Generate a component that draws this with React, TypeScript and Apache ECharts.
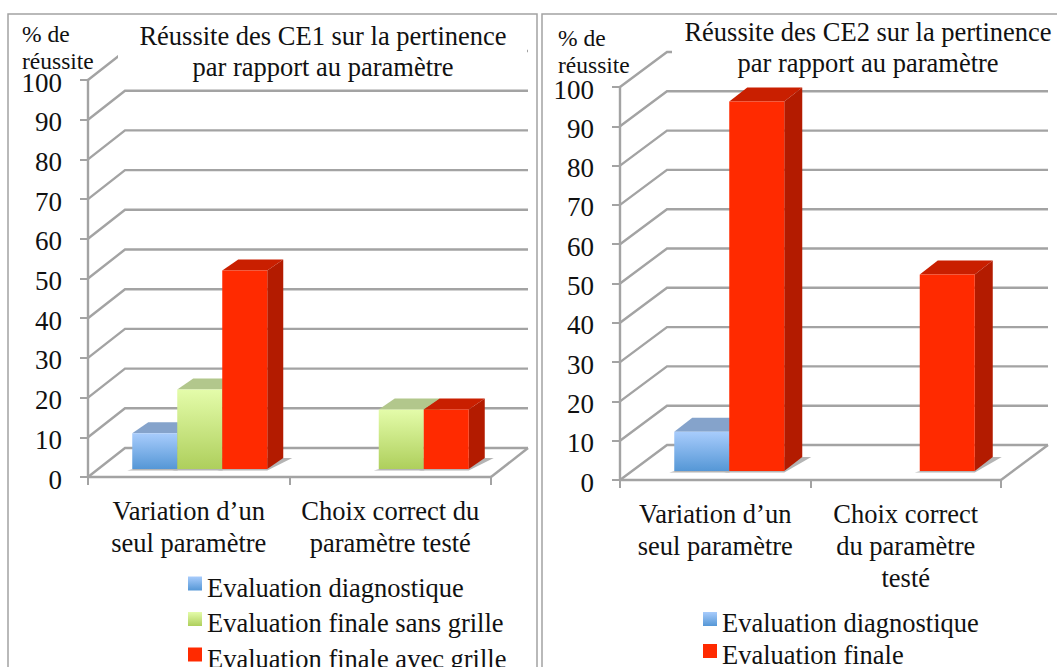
import React, { useEffect, useRef } from "react";
import * as echarts from "echarts";

const yTicks = [0, 10, 20, 30, 40, 50, 60, 70, 80, 90, 100];

const leftCategories = ["Variation d’un\nseul paramètre", "Choix correct du\nparamètre testé"];
const leftDiagnostic = [9, null];
const leftSansGrille = [20, 15];
const leftAvecGrille = [50, 15];

const rightCategories = ["Variation d’un\nseul paramètre", "Choix correct\ndu paramètre\ntesté"];
const rightDiagnostic = [10, null];
const rightFinale = [94, 50];

const FONT = "Liberation Serif";
const GRAY = "#a3a3a3";
const TEXT = "#111111";

const grad = (a: string, b: string) =>
  new echarts.graphic.LinearGradient(0, 0, 0, 1, [
    { offset: 0, color: a },
    { offset: 1, color: b },
  ]);

const BLUE = { front: () => grad("#a8ccfc", "#5597d6"), top: "#85a3cb", side: "#5f7fa8" };
const GREEN = { front: () => grad("#e4fcaa", "#aecf5c"), top: "#b2c78c", side: "#8aa05c" };
const RED = { front: () => "#ff2a00", top: "#c91f00", side: "#b31b00" };

function gridSeries(axisIndex: number, dx: number, dy: number) {
  return {
    type: "custom",
    xAxisIndex: axisIndex,
    yAxisIndex: axisIndex,
    z: 1,
    silent: true,
    encode: { x: 0, y: 1 },
    data: yTicks.map((t) => [0, t]),
    renderItem: (params: any, api: any) => {
      const v = api.value(1);
      const y = api.coord([0, v])[1];
      const cs = params.coordSys;
      const left = cs.x;
      const right = cs.x + cs.width;
      const style = { stroke: GRAY, lineWidth: 2.4, fill: "none" };
      const children: any[] = [
        {
          type: "polyline",
          shape: { points: [[left, y], [left + dx, y - dy], [right + dx, y - dy]] },
          style,
        },
      ];
      if (v === 0) {
        children.push({
          type: "line",
          shape: { x1: right, y1: y, x2: right + dx, y2: y - dy },
          style,
        });
      }
      return { type: "group", children };
    },
  };
}

function barSeries(
  name: string,
  values: (number | null)[],
  axisIndex: number,
  slot: number,
  slots: number,
  w: number,
  cfg: { offX: number; offY: number; dx: number; dy: number },
  palette: { front: () => any; top: string; side: string },
) {
  return {
    type: "custom",
    name,
    xAxisIndex: axisIndex,
    yAxisIndex: axisIndex,
    z: 3,
    encode: { x: 0, y: 1 },
    itemStyle: { color: palette.front() },
    data: values.map((v, i) => [i, v]),
    renderItem: (_: any, api: any) => {
      const v = api.value(1);
      if (v == null || isNaN(v)) return null;
      const cat = api.value(0);
      const p = api.coord([cat, v]);
      const base = api.coord([cat, 0]);
      const x0 = p[0] + cfg.offX + (slot - slots / 2) * w;
      const x1 = x0 + w;
      const yb = base[1] - cfg.offY;
      const yt = p[1] - cfg.offY;
      const { dx, dy } = cfg;
      return {
        type: "group",
        children: [
          {
            type: "polygon",
            shape: {
              points: [[x0 - 5, yb + 1.5], [x1, yb + 1.5], [x1 + dx + 9, yb - dy], [x1, yb - dy]],
            },
            style: { fill: "#b4b4b4" },
          },
          {
            type: "polygon",
            shape: { points: [[x0, yt], [x0 + dx, yt - dy], [x1 + dx, yt - dy], [x1, yt]] },
            style: { fill: palette.top },
          },
          {
            type: "polygon",
            shape: { points: [[x1, yt], [x1 + dx, yt - dy], [x1 + dx, yb - dy], [x1, yb]] },
            style: { fill: palette.side },
          },
          {
            type: "rect",
            shape: { x: x0, y: yt, width: w, height: yb - yt },
            style: { fill: palette.front() },
          },
        ],
      };
    },
  };
}

const xAxis = (index: number, data: string[]) => ({
  type: "category",
  gridIndex: index,
  data,
  boundaryGap: true,
  axisLine: { lineStyle: { color: GRAY, width: 2.4 } },
  axisTick: { show: true, length: 8, lineStyle: { color: GRAY, width: 2 } },
  axisLabel: {
    interval: 0,
    margin: 18,
    fontFamily: FONT,
    fontSize: 26.5,
    lineHeight: 32,
    color: TEXT,
  },
  splitLine: { show: false },
});

const yAxis = (index: number) => ({
  type: "value",
  gridIndex: index,
  min: 0,
  max: 100,
  interval: 10,
  axisLine: { show: true, lineStyle: { color: GRAY, width: 2.4 } },
  axisTick: { show: true, length: 8, lineStyle: { color: GRAY, width: 2 } },
  axisLabel: {
    margin: 26,
    color: TEXT,
    formatter: "{v|{value}}",
    rich: { v: { fontFamily: FONT, fontSize: 27, color: TEXT, padding: [5, 0, 0, 0] } },
  },
  splitLine: { show: false },
});

const legend = (data: string[], left: number, top: number, gap: number) => ({
  show: true,
  orient: "vertical",
  left,
  top,
  height: 200,
  padding: 0,
  data,
  icon: "rect",
  itemWidth: 14,
  itemHeight: 14,
  itemGap: gap,
  selectedMode: false,
  formatter: (name: string) => `{t|${name}}`,
  textStyle: {
    fontFamily: FONT,
    fontSize: 26.5,
    color: TEXT,
    rich: { t: { fontFamily: FONT, fontSize: 26.5, color: TEXT, padding: [8, 0, 0, 0] } },
  },
});

const title = (text: string, left: number, top: number) => ({
  text,
  left,
  top,
  textAlign: "center",
  padding: 0,
  textStyle: { fontFamily: FONT, fontSize: 26.5, fontWeight: "normal", color: TEXT, lineHeight: 31 },
});

const frame = (x: number, width: number) => ({
  type: "rect",
  silent: true,
  z: 0,
  shape: { x, y: 14, width, height: 700 },
  style: { fill: "none", stroke: GRAY, lineWidth: 1.5 },
});

const mask = (x: number, width: number) => ({
  type: "rect",
  silent: true,
  z: 5,
  shape: { x, y: 18, width, height: 60 },
  style: { fill: "#ffffff" },
});

const yLabel = (x: number, y: number) => ({
  type: "text",
  silent: true,
  z: 7,
  x,
  y,
  style: {
    text: "% de\nréussite",
    font: `23.5px "${FONT}"`,
    lineHeight: 27,
    fill: TEXT,
  },
});

export default function App() {
  const ref = useRef<HTMLDivElement>(null);
  useEffect(() => {
    const chart = echarts.init(ref.current!, null, { renderer: "svg" });
    const cfgL = { offX: 11, offY: 8, dx: 16, dy: 11 };
    const cfgR = { offX: 14, offY: 9, dx: 18, dy: 14 };
    chart.setOption({
      animation: false,
      backgroundColor: "#ffffff",
      title: [
        title("Réussite des CE1 sur la pertinence\npar rapport au paramètre", 323, 20),
        title("Réussite des CE2 sur la pertinence\npar rapport au paramètre", 868, 16),
      ],
      grid: [
        { left: 88, top: 80, width: 403, height: 397 },
        { left: 620, top: 87, width: 381, height: 393 },
      ],
      xAxis: [xAxis(0, leftCategories), xAxis(1, rightCategories)],
      yAxis: [yAxis(0), yAxis(1)],
      legend: [
        legend(
          ["Evaluation diagnostique", "Evaluation finale sans grille", "Evaluation finale avec grille"],
          188,
          574,
          8.5,
        ),
        legend(["Evaluation diagnostique", "Evaluation finale"], 703, 609.5, 5),
      ],
      graphic: [
        frame(8, 529),
        frame(542, 530),
        mask(118, 409),
        mask(672, 385),
        yLabel(22, 20),
        yLabel(558, 24),
      ],
      series: [
        gridSeries(0, 37, 29),
        gridSeries(1, 47, 35),
        barSeries("Evaluation diagnostique", leftDiagnostic, 0, 0, 3, 45, cfgL, BLUE),
        barSeries("Evaluation finale sans grille", leftSansGrille, 0, 1, 3, 45, cfgL, GREEN),
        barSeries("Evaluation finale avec grille", leftAvecGrille, 0, 2, 3, 45, cfgL, RED),
        barSeries("Evaluation diagnostique", rightDiagnostic, 1, 0, 2, 55, cfgR, BLUE),
        barSeries("Evaluation finale", rightFinale, 1, 1, 2, 55, cfgR, RED),
      ],
    });
    return () => chart.dispose();
  }, []);
  return (
    <div
      ref={ref}
      style={{ position: "fixed", left: 0, top: 0, width: 1057, height: 667, overflow: "hidden" }}
    />
  );
}
